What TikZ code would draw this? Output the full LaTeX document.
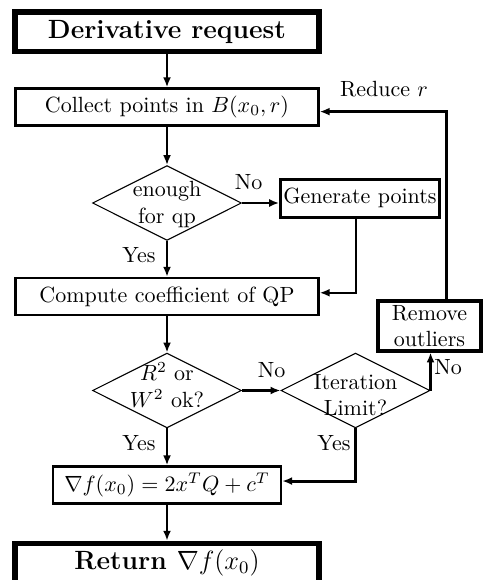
\documentclass[tikz,border=0pt]{standalone}
\usepackage{amsmath,amssymb}
\usetikzlibrary{shapes.geometric,arrows.meta,calc}

\begin{document}
\begin{tikzpicture}[x=0.4545pt,y=-0.4545pt,
  every node/.style={inner sep=0pt},
  termbox/.style={draw, line width=2.4pt, minimum width=138.2pt, minimum height=17.9pt, font=\large\bfseries},
  procbox/.style={draw, line width=1.1pt, minimum width=137.7pt, minimum height=16.8pt},
  sidebox/.style={draw, line width=1.4pt, align=center},
  decision/.style={draw, diamond, line width=0.5pt, minimum width=67.7pt, minimum height=34pt},
  inside/.style={align=center},
  tag/.style={},
  flow/.style={line width=1pt, -{Latex[length=4.5pt,width=3.6pt]}},
  heavyflow/.style={line width=1.4pt, -{Latex[length=4.5pt,width=3.6pt]}}
]
\useasboundingbox (0,0) rectangle (483,580);

% boxes
\node[termbox] (req) at (167,31.7) {Derivative request};
\node[procbox] (collect) at (167,107) {Collect points in $B(x_0,r)$};
\node[decision] (enough) at (167,203) {};
\node[inside] (enoughtxt) at (167,204.5) {enough\\for qp};
\node[sidebox, minimum width=72.1pt, minimum height=17.4pt] (gen) at (360,198.2) {Generate points};
\node[procbox] (compute) at (167,296.5) {Compute coefficient of QP};
\node[decision] (fit) at (167,390.5) {};
\node[inside] (fittxt) at (167,385) {$R^2$ or\\$W^2$ ok?};
\node[decision] (iter) at (355.5,390.5) {};
\node[inside] (itertxt) at (355.5,395) {Iteration\\Limit?};
\node[sidebox, minimum width=46.8pt, minimum height=22.7pt] (remove) at (429.5,326) {Remove\\outliers};
\node[procbox, minimum width=103.6pt] (grad) at (167,485) {$\nabla f(x_0) = 2x^TQ + c^T$};
\node[termbox] (ret) at (167,563) {Return $\nabla f(x_0)$};

% labels
\node[tag] (l1) at (248.5,181.7) {No};
\node[tag] (l2) at (139,255) {Yes};
\node[tag] (l3) at (271.7,370.5) {No};
\node[tag] (l4) at (139,443) {Yes};
\node[tag] (l5) at (334,443) {Yes};
\node[tag] (l6) at (448,367.5) {No};
\node[tag] (l7) at (384,89) {Reduce $r$};

% connectors
\draw[flow] (req) -- (collect);
\draw[flow] (collect) -- (enough.north);
\draw[flow] (enough.east) -- (enough.east -| gen.west);
\draw[flow] (enough.south) -- (compute.north);
\draw[flow] ([xshift=-1.8pt]gen.south) |- ([yshift=1.7pt]compute.east);
\draw[flow] (compute) -- (fit.north);
\draw[flow] (fit.east) -- (iter.west);
\draw[heavyflow] (iter.east) -- (iter.east |- remove.south);
\draw[heavyflow] ([xshift=7.8pt]remove.north) |- ([yshift=-2.1pt]collect.east);
\draw[flow] (fit.south) -- (grad.north);
\draw[heavyflow] (iter.south) |- ([yshift=1.8pt]grad.east);
\draw[flow] (grad) -- (ret);
\end{tikzpicture}
\end{document}
